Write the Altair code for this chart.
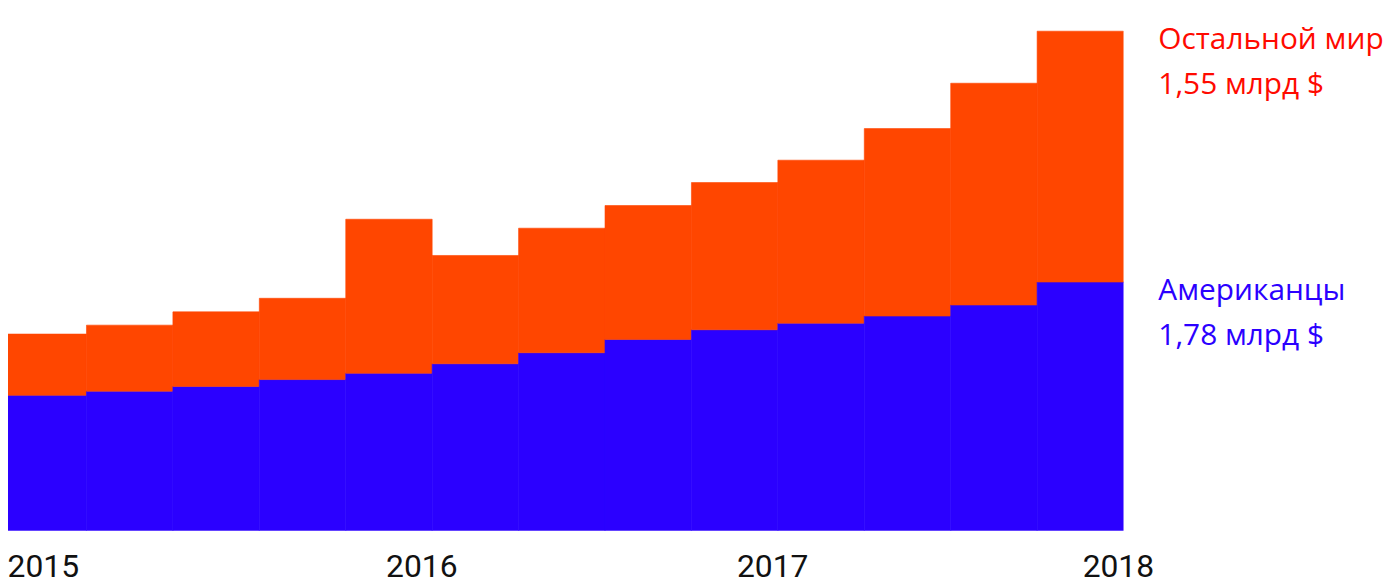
import altair as alt
import pandas as pd

# ---- data (billions of $, per quarter) ----
quarters = list(range(13))
americans = [0.907, 0.935, 0.967, 1.013, 1.055, 1.119, 1.193, 1.282, 1.347, 1.391, 1.439, 1.513, 1.667]
rest_world = [0.411, 0.443, 0.500, 0.545, 1.033, 0.726, 0.835, 0.898, 0.987, 1.093, 1.257, 1.487, 1.682]

years = ["2015", "2016", "2017", "2018"]
year_pos = [0.50, 4.88, 8.94, 12.94]

series_names = ["Американцы", "Остальной мир"]
series_totals = ["1,78 млрд $", "1,55 млрд $"]
bar_colors = ["#2B00FF", "#FF4600"]
text_colors = ["#2B00FF", "#FF0A00"]

# ---- tables ----
rows = []
for q, a, r in zip(quarters, americans, rest_world):
    rows.append({"x0": q, "x1": q + 1, "y0": 0.0, "y1": a, "color": bar_colors[0]})
    rows.append({"x0": q, "x1": q + 1, "y0": a, "y1": a + r, "color": bar_colors[1]})
bars_df = pd.DataFrame(rows)

last = len(quarters) - 1
label_df = pd.DataFrame({
    "x": [quarters[last] + 1] * 2,
    "y": [americans[last], americans[last] + rest_world[last]],
    "name": series_names,
    "total": series_totals,
    "color": text_colors,
})

year_df = pd.DataFrame({"x": year_pos, "year": years})

W, H = 1122, 524
xscale = alt.Scale(domain=[0.092, 13], nice=False, zero=False)
yscale = alt.Scale(domain=[0, 3.4933], nice=False)

bars = alt.Chart(bars_df).mark_rect(clip=True, strokeWidth=0.6).encode(
    x=alt.X("x0:Q", scale=xscale, axis=None),
    x2="x1:Q",
    y=alt.Y("y0:Q", scale=yscale, axis=None),
    y2="y1:Q",
    color=alt.Color("color:N", scale=None),
    stroke=alt.Stroke("color:N", scale=None),
)

label_font = "Open Sans"

name_text = alt.Chart(label_df).mark_text(
    align="left", baseline="alphabetic", dx=35, dy=18, fontSize=30, font=label_font
).encode(
    x=alt.X("x:Q", scale=xscale),
    y=alt.Y("y:Q", scale=yscale),
    text="name:N",
    color=alt.Color("color:N", scale=None),
)

total_text = alt.Chart(label_df).mark_text(
    align="left", baseline="alphabetic", dx=35, dy=63, fontSize=30, font=label_font
).encode(
    x=alt.X("x:Q", scale=xscale),
    y=alt.Y("y:Q", scale=yscale),
    text="total:N",
    color=alt.Color("color:N", scale=None),
)

year_text = alt.Chart(year_df).mark_text(
    align="center", baseline="alphabetic", fontSize=32, font="Roboto", color="#111111"
).encode(
    x=alt.X("x:Q", scale=xscale),
    y=alt.value(H + 47),
    text="year:N",
)

chart = alt.layer(bars, name_text, total_text, year_text).properties(
    width=W,
    height=H,
    autosize=alt.AutoSizeParams(type="none"),
    padding={"left": 0, "top": 0, "right": 270, "bottom": 52},
).configure(background="white").configure_view(stroke=None, strokeWidth=0)

chart.save("out.html", embed_options={"renderer": "svg", "actions": False})
